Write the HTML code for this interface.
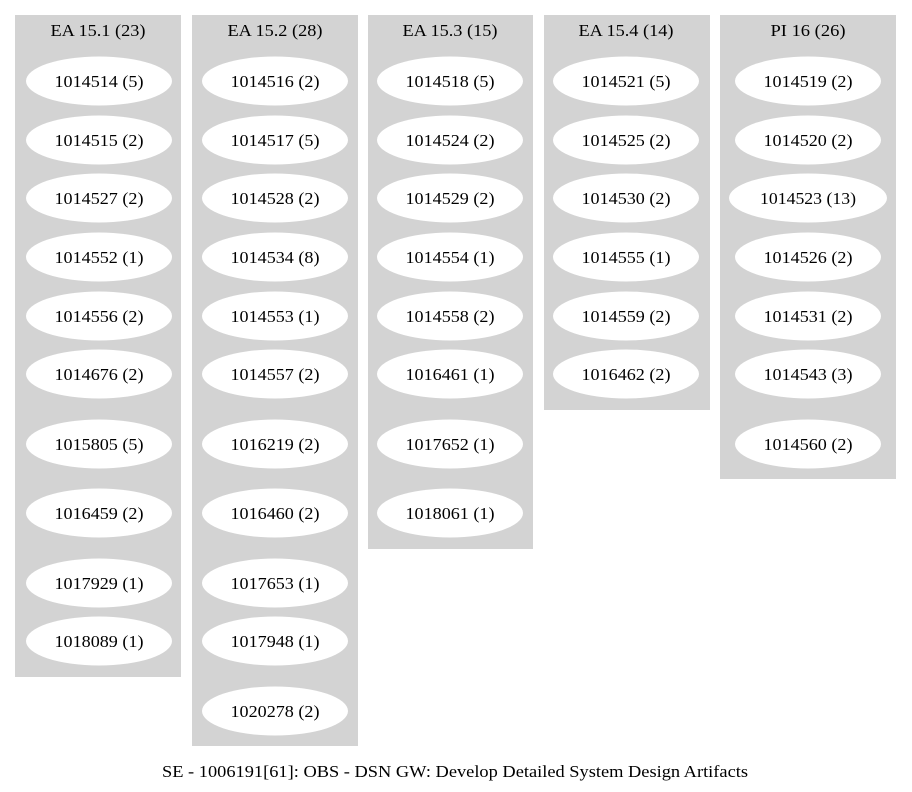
<!DOCTYPE html>
<html><head><meta charset="utf-8"><style>html,body{margin:0;padding:0;background:#fff}svg{display:block}</style></head>
<body>
<svg width="912" height="792" xmlns="http://www.w3.org/2000/svg" font-family="Liberation Serif, serif" font-size="17">
<rect width="912" height="792" fill="#fff"/>
<g fill="#d3d3d3">
<rect x="15" y="15" width="166" height="662"/>
<rect x="192" y="15" width="166" height="731"/>
<rect x="368" y="15" width="165" height="534"/>
<rect x="544" y="15" width="166" height="395"/>
<rect x="720" y="15" width="176" height="464"/>
</g>
<g text-anchor="middle">
<text x="98" y="36" textLength="95" lengthAdjust="spacingAndGlyphs">EA 15.1 (23)</text>
<text x="275" y="36" textLength="95" lengthAdjust="spacingAndGlyphs">EA 15.2 (28)</text>
<text x="450" y="36" textLength="95" lengthAdjust="spacingAndGlyphs">EA 15.3 (15)</text>
<text x="626" y="36" textLength="95" lengthAdjust="spacingAndGlyphs">EA 15.4 (14)</text>
<text x="808" y="36" textLength="75" lengthAdjust="spacingAndGlyphs">PI 16 (26)</text>
</g>
<g id="n" text-anchor="middle">
<!-- col1 -->
<g fill="#fff">
<ellipse cx="99" cy="81" rx="73" ry="24.5"/><ellipse cx="99" cy="140" rx="73" ry="24.5"/><ellipse cx="99" cy="198" rx="73" ry="24.5"/><ellipse cx="99" cy="257" rx="73" ry="24.5"/><ellipse cx="99" cy="316" rx="73" ry="24.5"/><ellipse cx="99" cy="374" rx="73" ry="24.5"/><ellipse cx="99" cy="444" rx="73" ry="24.5"/><ellipse cx="99" cy="513" rx="73" ry="24.5"/><ellipse cx="99" cy="583" rx="73" ry="24.5"/><ellipse cx="99" cy="641" rx="73" ry="24.5"/>
<ellipse cx="275" cy="81" rx="73" ry="24.5"/><ellipse cx="275" cy="140" rx="73" ry="24.5"/><ellipse cx="275" cy="198" rx="73" ry="24.5"/><ellipse cx="275" cy="257" rx="73" ry="24.5"/><ellipse cx="275" cy="316" rx="73" ry="24.5"/><ellipse cx="275" cy="374" rx="73" ry="24.5"/><ellipse cx="275" cy="444" rx="73" ry="24.5"/><ellipse cx="275" cy="513" rx="73" ry="24.5"/><ellipse cx="275" cy="583" rx="73" ry="24.5"/><ellipse cx="275" cy="641" rx="73" ry="24.5"/><ellipse cx="275" cy="711" rx="73" ry="24.5"/>
<ellipse cx="450" cy="81" rx="73" ry="24.5"/><ellipse cx="450" cy="140" rx="73" ry="24.5"/><ellipse cx="450" cy="198" rx="73" ry="24.5"/><ellipse cx="450" cy="257" rx="73" ry="24.5"/><ellipse cx="450" cy="316" rx="73" ry="24.5"/><ellipse cx="450" cy="374" rx="73" ry="24.5"/><ellipse cx="450" cy="444" rx="73" ry="24.5"/><ellipse cx="450" cy="513" rx="73" ry="24.5"/>
<ellipse cx="626" cy="81" rx="73" ry="24.5"/><ellipse cx="626" cy="140" rx="73" ry="24.5"/><ellipse cx="626" cy="198" rx="73" ry="24.5"/><ellipse cx="626" cy="257" rx="73" ry="24.5"/><ellipse cx="626" cy="316" rx="73" ry="24.5"/><ellipse cx="626" cy="374" rx="73" ry="24.5"/>
<ellipse cx="808" cy="81" rx="73" ry="24.5"/><ellipse cx="808" cy="140" rx="73" ry="24.5"/><ellipse cx="808" cy="198" rx="79" ry="24.5"/><ellipse cx="808" cy="257" rx="73" ry="24.5"/><ellipse cx="808" cy="316" rx="73" ry="24.5"/><ellipse cx="808" cy="374" rx="73" ry="24.5"/><ellipse cx="808" cy="444" rx="73" ry="24.5"/>
</g>
<g fill="#000" textLength="89">
<text x="99" y="87" textLength="89" lengthAdjust="spacingAndGlyphs">1014514 (5)</text>
<text x="99" y="146" textLength="89" lengthAdjust="spacingAndGlyphs">1014515 (2)</text>
<text x="99" y="204" textLength="89" lengthAdjust="spacingAndGlyphs">1014527 (2)</text>
<text x="99" y="263" textLength="89" lengthAdjust="spacingAndGlyphs">1014552 (1)</text>
<text x="99" y="322" textLength="89" lengthAdjust="spacingAndGlyphs">1014556 (2)</text>
<text x="99" y="380" textLength="89" lengthAdjust="spacingAndGlyphs">1014676 (2)</text>
<text x="99" y="450" textLength="89" lengthAdjust="spacingAndGlyphs">1015805 (5)</text>
<text x="99" y="519" textLength="89" lengthAdjust="spacingAndGlyphs">1016459 (2)</text>
<text x="99" y="589" textLength="89" lengthAdjust="spacingAndGlyphs">1017929 (1)</text>
<text x="99" y="647" textLength="89" lengthAdjust="spacingAndGlyphs">1018089 (1)</text>

<text x="275" y="87" textLength="89" lengthAdjust="spacingAndGlyphs">1014516 (2)</text>
<text x="275" y="146" textLength="89" lengthAdjust="spacingAndGlyphs">1014517 (5)</text>
<text x="275" y="204" textLength="89" lengthAdjust="spacingAndGlyphs">1014528 (2)</text>
<text x="275" y="263" textLength="89" lengthAdjust="spacingAndGlyphs">1014534 (8)</text>
<text x="275" y="322" textLength="89" lengthAdjust="spacingAndGlyphs">1014553 (1)</text>
<text x="275" y="380" textLength="89" lengthAdjust="spacingAndGlyphs">1014557 (2)</text>
<text x="275" y="450" textLength="89" lengthAdjust="spacingAndGlyphs">1016219 (2)</text>
<text x="275" y="519" textLength="89" lengthAdjust="spacingAndGlyphs">1016460 (2)</text>
<text x="275" y="589" textLength="89" lengthAdjust="spacingAndGlyphs">1017653 (1)</text>
<text x="275" y="647" textLength="89" lengthAdjust="spacingAndGlyphs">1017948 (1)</text>
<text x="275" y="717" textLength="89" lengthAdjust="spacingAndGlyphs">1020278 (2)</text>

<text x="450" y="87" textLength="89" lengthAdjust="spacingAndGlyphs">1014518 (5)</text>
<text x="450" y="146" textLength="89" lengthAdjust="spacingAndGlyphs">1014524 (2)</text>
<text x="450" y="204" textLength="89" lengthAdjust="spacingAndGlyphs">1014529 (2)</text>
<text x="450" y="263" textLength="89" lengthAdjust="spacingAndGlyphs">1014554 (1)</text>
<text x="450" y="322" textLength="89" lengthAdjust="spacingAndGlyphs">1014558 (2)</text>
<text x="450" y="380" textLength="89" lengthAdjust="spacingAndGlyphs">1016461 (1)</text>
<text x="450" y="450" textLength="89" lengthAdjust="spacingAndGlyphs">1017652 (1)</text>
<text x="450" y="519" textLength="89" lengthAdjust="spacingAndGlyphs">1018061 (1)</text>

<text x="626" y="87" textLength="89" lengthAdjust="spacingAndGlyphs">1014521 (5)</text>
<text x="626" y="146" textLength="89" lengthAdjust="spacingAndGlyphs">1014525 (2)</text>
<text x="626" y="204" textLength="89" lengthAdjust="spacingAndGlyphs">1014530 (2)</text>
<text x="626" y="263" textLength="89" lengthAdjust="spacingAndGlyphs">1014555 (1)</text>
<text x="626" y="322" textLength="89" lengthAdjust="spacingAndGlyphs">1014559 (2)</text>
<text x="626" y="380" textLength="89" lengthAdjust="spacingAndGlyphs">1016462 (2)</text>

<text x="808" y="87" textLength="89" lengthAdjust="spacingAndGlyphs">1014519 (2)</text>
<text x="808" y="146" textLength="89" lengthAdjust="spacingAndGlyphs">1014520 (2)</text>
<text x="808" y="204" textLength="96" lengthAdjust="spacingAndGlyphs">1014523 (13)</text>
<text x="808" y="263" textLength="89" lengthAdjust="spacingAndGlyphs">1014526 (2)</text>
<text x="808" y="322" textLength="89" lengthAdjust="spacingAndGlyphs">1014531 (2)</text>
<text x="808" y="380" textLength="89" lengthAdjust="spacingAndGlyphs">1014543 (3)</text>
<text x="808" y="450" textLength="89" lengthAdjust="spacingAndGlyphs">1014560 (2)</text>
</g>
</g>
<text x="162" y="777" textLength="586" lengthAdjust="spacingAndGlyphs">SE - 1006191[61]: OBS - DSN GW: Develop Detailed System Design Artifacts</text>
</svg>
</body></html>
